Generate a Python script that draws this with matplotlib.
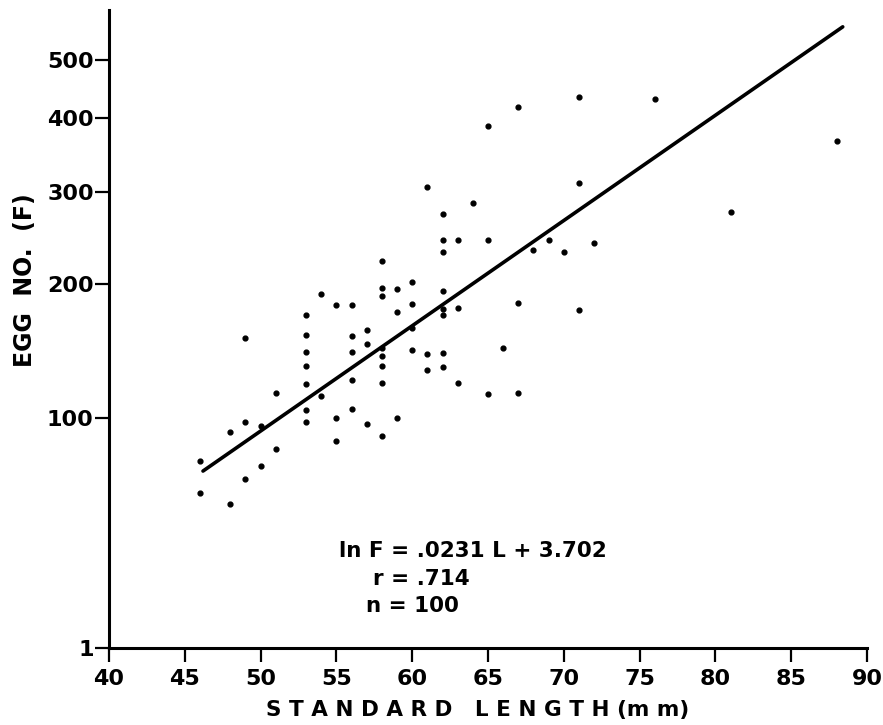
"""
Egg number vs standard length (scanned figure, broken log-like y axis)
"""

import numpy as np
import matplotlib.pyplot as plt

# standard length (mm) and egg number
length = [46, 46, 48, 48, 49, 49, 49, 50, 50, 51, 51,
          53, 53, 53, 53, 53, 53, 53, 54, 54,
          55, 55, 55, 56, 56, 56, 56, 56, 57, 57, 57,
          58, 58, 58, 58, 58, 58, 58, 58, 59, 59, 59,
          60, 60, 60, 60, 61, 61, 61,
          62, 62, 62, 62, 62, 62, 62, 62, 63, 63, 63, 64,
          65, 65, 65, 66, 67, 67, 67, 68, 69, 70,
          71, 71, 71, 72, 76, 81, 88]
eggs = [80, 68, 64, 93, 151, 98, 73, 78, 96, 85, 114,
        170, 154, 141, 131, 119, 104, 98, 190, 112,
        179, 100, 89, 179, 153, 141, 122, 105, 158, 147, 97,
        221, 196, 188, 144, 138, 131, 120, 91, 195, 173, 100,
        202, 180, 159, 142, 139, 128, 306,
        272, 243, 230, 193, 176, 170, 140, 130, 243, 177, 120, 286,
        387, 243, 113, 144, 181, 417, 114, 232, 243, 230,
        175, 433, 311, 240, 430, 275, 366]

# regression line as drawn
fit_L = [46.2, 88.4]
fit_F = [76, 568]

yticks = [1, 100, 200, 300, 400, 500]
xticks = [40, 45, 50, 55, 60, 65, 70, 75, 80, 85, 90]

# the hand drawn y axis is not a clean log scale, calibrate it on its ticks
cal_val = np.array([1, 50, 100, 200, 300, 400, 500, 1000])
cal_px = np.array([648, 552, 418, 284, 192, 118, 60, -120.2])
cal_log = np.log10(cal_val)


def fwd(v):
    v = np.clip(np.asarray(v, dtype=float), 1e-3, None)
    return -np.interp(np.log10(v), cal_log, cal_px)


def inv(u):
    u = np.asarray(u, dtype=float)
    return 10 ** np.interp(u, -cal_px, cal_log)


fig = plt.figure(figsize=(8.83, 7.25), dpi=100)
ax = fig.add_axes([109/883, 1-648/725, 758/883, 638/725])
ax.set_yscale('function', functions=(fwd, inv))

ax.scatter(length, eggs, s=12, color='black', zorder=3)
ax.plot(fit_L, fit_F, color='black', lw=2.6, solid_capstyle='round')

ax.set_xlim(40, 90)
ax.set_ylim(1, 606)
ax.set_xticks(xticks)
ax.set_xticklabels([str(t) for t in xticks])
ax.set_yticks(yticks)
ax.set_yticklabels([str(t) for t in yticks])
ax.minorticks_off()

for s in ['top', 'right']:
    ax.spines[s].set_visible(False)
for s in ['left', 'bottom']:
    ax.spines[s].set_linewidth(2.2)

ax.tick_params(axis='both', length=10, width=1.6, color='black')
ax.tick_params(axis='x', labelsize=16, pad=5)
ax.tick_params(axis='y', labelsize=16, pad=1)
for lab in ax.get_xticklabels() + ax.get_yticklabels():
    lab.set_fontweight('bold')

fig.text(478/883, 1-710/725, 'S T A N D A R D   L E N G T H (m m)',
         ha='center', va='center', fontsize=15.5, fontweight='bold')
fig.text(25/883, 1-280/725, 'EGG  NO.  (F)', ha='center', va='center',
         rotation=90, fontsize=17, fontweight='bold')

fig.text(339/883, 1-557/725, 'ln F = .0231 L + 3.702', ha='left',
         va='baseline', fontsize=15.5, fontweight='bold')
fig.text(373/883, 1-585/725, 'r = .714', ha='left', va='baseline',
         fontsize=15.5, fontweight='bold')
fig.text(366/883, 1-612/725, 'n = 100', ha='left', va='baseline',
         fontsize=15.5, fontweight='bold')

plt.savefig('out.png', dpi=100)
